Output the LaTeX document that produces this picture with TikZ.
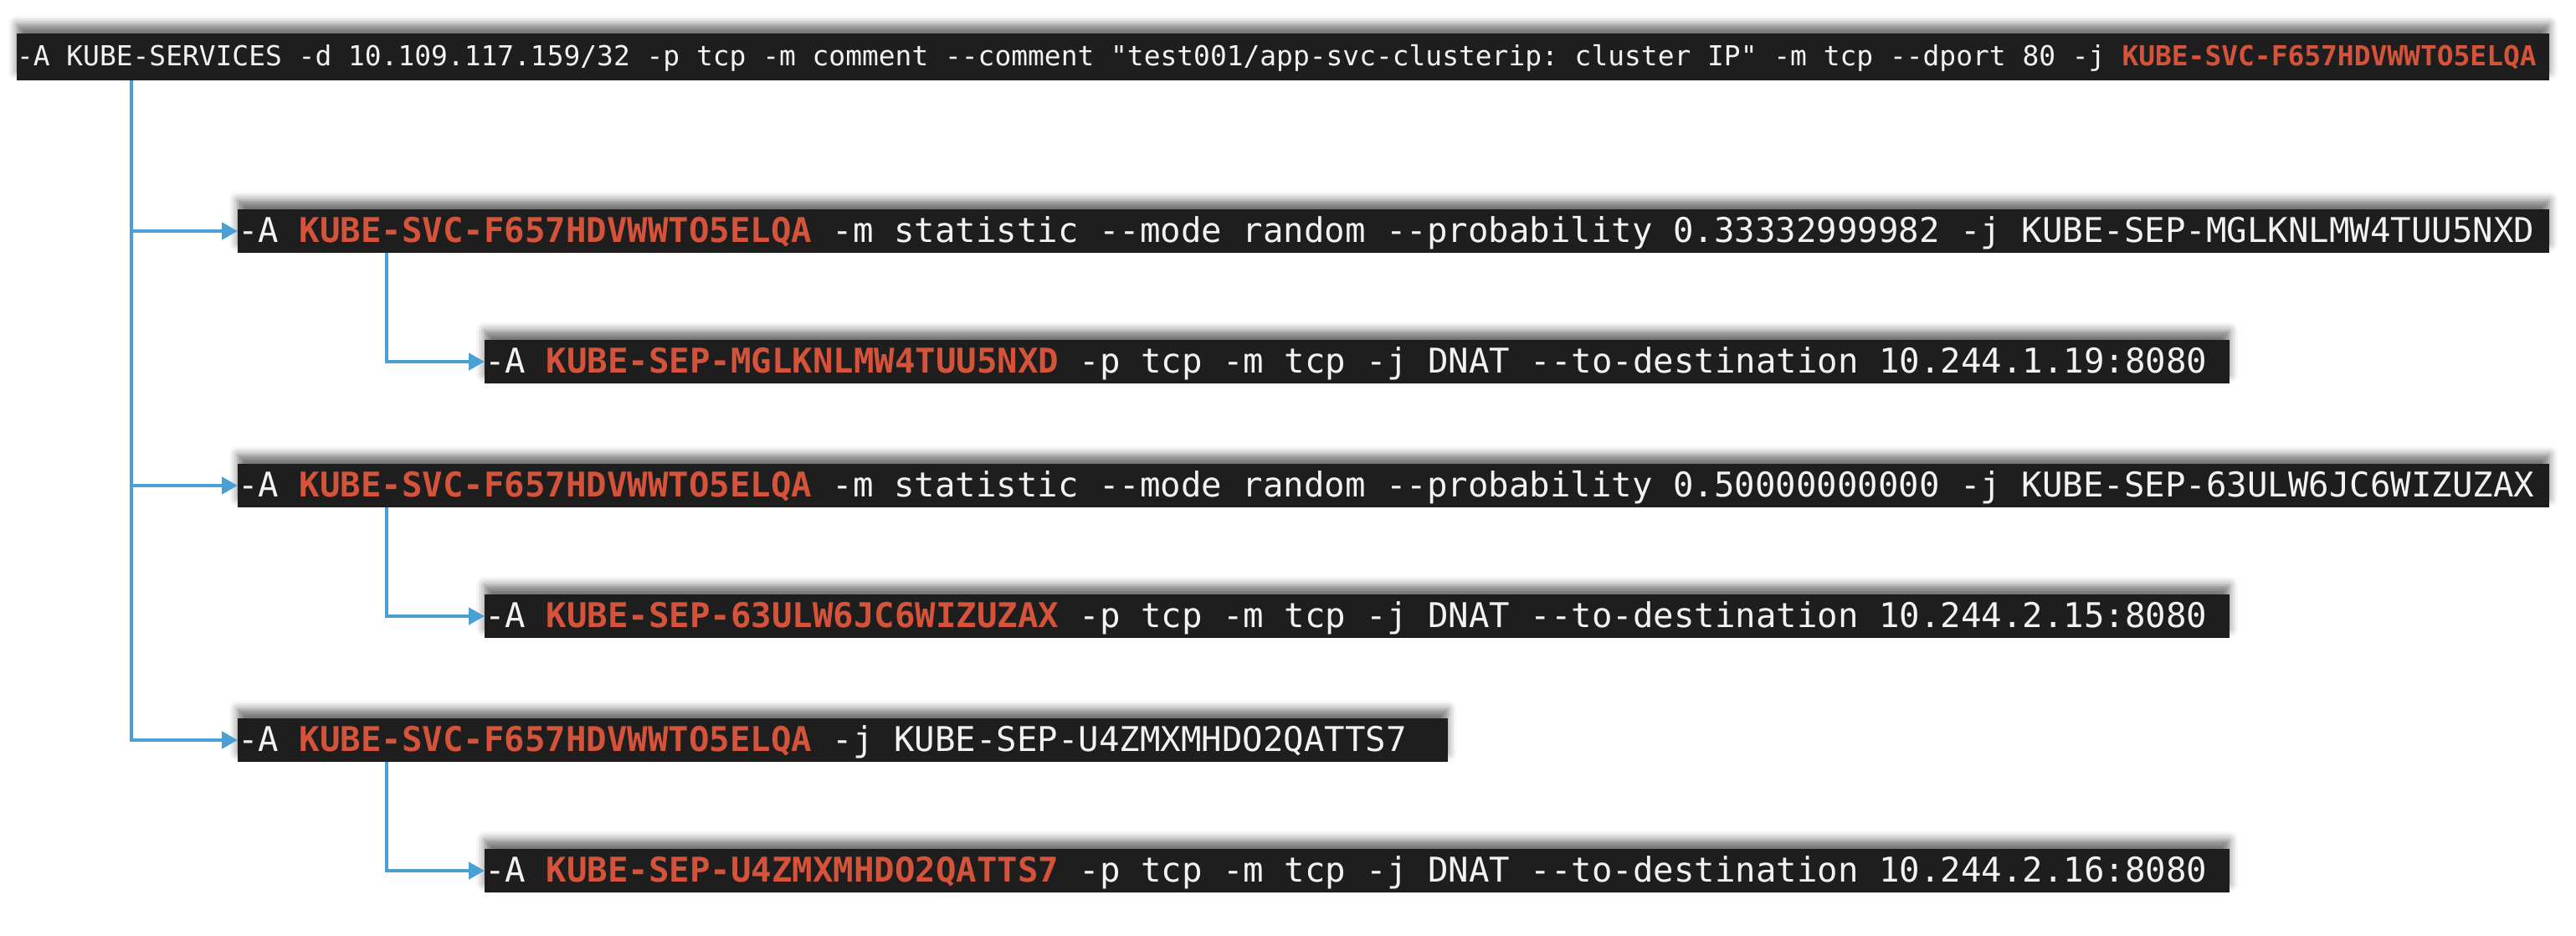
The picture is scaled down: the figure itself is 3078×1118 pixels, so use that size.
\documentclass[tikz,border=0pt]{standalone}
\usepackage{fontspec}
\setmonofont{DejaVu Sans Mono}
\usetikzlibrary{positioning,arrows.meta,shadows.blur}

\definecolor{termbg}{HTML}{1E1E1E}
\definecolor{termfg}{HTML}{F2F2F2}
\definecolor{chainred}{HTML}{D4533A}
\definecolor{linkblue}{HTML}{4A9FD4}
\newcommand{\chain}[1]{\textcolor{chainred}{\bfseries #1}}

\tikzset{
  rule/.style={fill=termbg, text=termfg, inner sep=0pt, outer sep=0pt, align=left,
    font=\ttfamily\frenchspacing\fontsize{40.7}{48}\selectfont,
    execute at begin node={\spaceskip=0.602em\relax},
    text height=39pt, text depth=13pt, anchor=north west,
    blur shadow={shadow xshift=0pt, shadow yshift=11pt, shadow blur radius=10pt, shadow opacity=55}},
  toprule/.style={rule, font=\ttfamily\frenchspacing\fontsize{32.9}{40}\selectfont,
    text height=39pt, text depth=17pt},
  link/.style={draw=linkblue, line width=4.5pt, -{Triangle[length=19pt,width=20pt]}}
}

\begin{document}
\begin{tikzpicture}[x=1pt, y=-1pt]
        \useasboundingbox (0,0) rectangle (3078,1118);

        % Draw the rules
        \node[toprule, text width=3026pt] (top) at (20,40) {-A KUBE-SERVICES -d 10.109.117.159/32 -p tcp -m comment --comment "test001/app-svc-clusterip: cluster IP" -m tcp --dport 80 -j \chain{KUBE-SVC-F657HDVWWTO5ELQA}};

        \node[rule, text width=2762pt, below right=154pt and 264pt of top.south west] (svcA) {-A \chain{KUBE-SVC-F657HDVWWTO5ELQA} -m statistic --mode random --probability 0.33332999982 -j KUBE-SEP-MGLKNLMW4TUU5NXD};
        \node[rule, text width=2085pt, below right=104pt and 295pt of svcA.south west] (sepA) {-A \chain{KUBE-SEP-MGLKNLMW4TUU5NXD} -p tcp -m tcp -j DNAT --to-destination 10.244.1.19:8080};

        \node[rule, text width=2762pt, below=252pt of svcA.south west, anchor=north west] (svcB) {-A \chain{KUBE-SVC-F657HDVWWTO5ELQA} -m statistic --mode random --probability 0.50000000000 -j KUBE-SEP-63ULW6JC6WIZUZAX};
        \node[rule, text width=2085pt, below right=104pt and 295pt of svcB.south west] (sepB) {-A \chain{KUBE-SEP-63ULW6JC6WIZUZAX} -p tcp -m tcp -j DNAT --to-destination 10.244.2.15:8080};

        \node[rule, text width=1446pt, below=252pt of svcB.south west, anchor=north west] (svcC) {-A \chain{KUBE-SVC-F657HDVWWTO5ELQA} -j KUBE-SEP-U4ZMXMHDO2QATTS7};
        \node[rule, text width=2085pt, below right=104pt and 295pt of svcC.south west] (sepC) {-A \chain{KUBE-SEP-U4ZMXMHDO2QATTS7} -p tcp -m tcp -j DNAT --to-destination 10.244.2.16:8080};

        % Connect the rules with arrows
        \coordinate (trunk) at ([xshift=137pt]top.south west);
        \draw[link] (trunk) |- (svcA.west);
        \draw[link] (trunk) |- (svcB.west);
        \draw[link] (trunk) |- (svcC.west);

        \draw[link] ([xshift=178pt]svcA.south west) |- (sepA.west);
        \draw[link] ([xshift=178pt]svcB.south west) |- (sepB.west);
        \draw[link] ([xshift=178pt]svcC.south west) |- (sepC.west);

\end{tikzpicture}
\end{document}
